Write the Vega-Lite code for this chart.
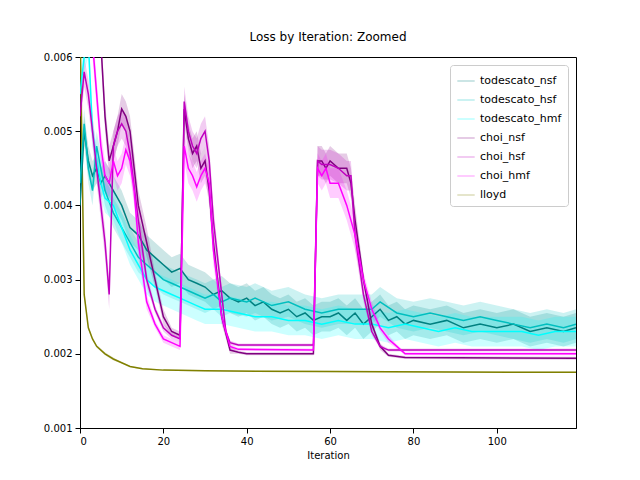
{
"$schema":"https://vega.github.io/schema/vega-lite/v6.json",
"width":496,"height":371,
"autosize":"none",
"padding":{"left":80,"top":57,"right":64,"bottom":52},
"config":{"font":"DejaVu Sans","view":{"stroke":"black"},"axis":{"grid":false,"domainColor":"black","tickColor":"black","labelColor":"black","labelFontSize":10,"titleFontSize":10,"titleFontWeight":"normal","labelPadding":3},"title":{"fontSize":12,"fontWeight":"normal","offset":8}},
"title":"Loss by Iteration: Zoomed",
"datasets":{"d":[
{"s":"lloyd","x":0,"y":0.0065,"lo":0.0064,"hi":0.0066},{"s":"lloyd","x":1,"y":0.0028,"lo":0.00275,"hi":0.00285},{"s":"lloyd","x":2,"y":0.00235,"lo":0.00232,"hi":0.00238},{"s":"lloyd","x":3,"y":0.0022,"lo":0.00218,"hi":0.00222},{"s":"lloyd","x":4,"y":0.0021,"lo":0.00208,"hi":0.00212},{"s":"lloyd","x":6,"y":0.002,"lo":0.00198,"hi":0.00202},{"s":"lloyd","x":8,"y":0.00193,"lo":0.00191,"hi":0.00195},{"s":"lloyd","x":10,"y":0.00188,"lo":0.00187,"hi":0.00189},{"s":"lloyd","x":12,"y":0.00183,"lo":0.00182,"hi":0.00184},{"s":"lloyd","x":15,"y":0.0018,"lo":0.00179,"hi":0.00181},{"s":"lloyd","x":20,"y":0.00178,"lo":0.00177,"hi":0.00179},{"s":"lloyd","x":30,"y":0.00177,"lo":0.00176,"hi":0.00178},{"s":"lloyd","x":60,"y":0.00176,"lo":0.00175,"hi":0.00177},{"s":"lloyd","x":119,"y":0.00175,"lo":0.00174,"hi":0.00176},

{"s":"todescato_nsf","x":0,"y":0.004,"lo":0.0038,"hi":0.0042},{"s":"todescato_nsf","x":1,"y":0.005,"lo":0.0048,"hi":0.0052},{"s":"todescato_nsf","x":2,"y":0.0046,"lo":0.0044,"hi":0.0048},{"s":"todescato_nsf","x":3,"y":0.0044,"lo":0.0042,"hi":0.0046},{"s":"todescato_nsf","x":4,"y":0.0045,"lo":0.0043,"hi":0.0047},{"s":"todescato_nsf","x":5,"y":0.0043,"lo":0.0041,"hi":0.0045},{"s":"todescato_nsf","x":6,"y":0.0044,"lo":0.0042,"hi":0.0046},{"s":"todescato_nsf","x":8,"y":0.0042,"lo":0.004,"hi":0.0044},{"s":"todescato_nsf","x":10,"y":0.004,"lo":0.0038,"hi":0.0042},{"s":"todescato_nsf","x":12,"y":0.0037,"lo":0.0035,"hi":0.0039},{"s":"todescato_nsf","x":14,"y":0.0036,"lo":0.0034,"hi":0.0038},{"s":"todescato_nsf","x":16,"y":0.0034,"lo":0.0032,"hi":0.0036},{"s":"todescato_nsf","x":18,"y":0.0033,"lo":0.0031,"hi":0.0035},{"s":"todescato_nsf","x":20,"y":0.0032,"lo":0.003,"hi":0.0034},{"s":"todescato_nsf","x":22,"y":0.0031,"lo":0.0029,"hi":0.0033},{"s":"todescato_nsf","x":24,"y":0.00315,"lo":0.00295,"hi":0.00335},{"s":"todescato_nsf","x":26,"y":0.003,"lo":0.0028,"hi":0.0032},{"s":"todescato_nsf","x":28,"y":0.00295,"lo":0.00275,"hi":0.00315},{"s":"todescato_nsf","x":30,"y":0.0029,"lo":0.0027,"hi":0.0031},{"s":"todescato_nsf","x":32,"y":0.0028,"lo":0.0026,"hi":0.003},{"s":"todescato_nsf","x":34,"y":0.00285,"lo":0.00265,"hi":0.00305},{"s":"todescato_nsf","x":36,"y":0.00275,"lo":0.00255,"hi":0.00295},{"s":"todescato_nsf","x":38,"y":0.0027,"lo":0.0025,"hi":0.0029},{"s":"todescato_nsf","x":40,"y":0.00275,"lo":0.00255,"hi":0.00295},{"s":"todescato_nsf","x":42,"y":0.00265,"lo":0.00245,"hi":0.00285},{"s":"todescato_nsf","x":44,"y":0.0027,"lo":0.0025,"hi":0.0029},{"s":"todescato_nsf","x":46,"y":0.0026,"lo":0.0024,"hi":0.0028},{"s":"todescato_nsf","x":48,"y":0.00255,"lo":0.00235,"hi":0.00275},{"s":"todescato_nsf","x":50,"y":0.0026,"lo":0.0024,"hi":0.0028},{"s":"todescato_nsf","x":52,"y":0.0025,"lo":0.0023,"hi":0.0027},{"s":"todescato_nsf","x":54,"y":0.00255,"lo":0.00235,"hi":0.00275},{"s":"todescato_nsf","x":56,"y":0.00245,"lo":0.00225,"hi":0.00265},{"s":"todescato_nsf","x":58,"y":0.0025,"lo":0.0023,"hi":0.0027},{"s":"todescato_nsf","x":60,"y":0.0025,"lo":0.0023,"hi":0.0027},{"s":"todescato_nsf","x":62,"y":0.00255,"lo":0.00235,"hi":0.00275},{"s":"todescato_nsf","x":64,"y":0.00245,"lo":0.00225,"hi":0.00265},{"s":"todescato_nsf","x":66,"y":0.00255,"lo":0.00235,"hi":0.00275},{"s":"todescato_nsf","x":68,"y":0.0024,"lo":0.0022,"hi":0.0026},{"s":"todescato_nsf","x":70,"y":0.0025,"lo":0.0023,"hi":0.0027},{"s":"todescato_nsf","x":72,"y":0.0026,"lo":0.0024,"hi":0.0028},{"s":"todescato_nsf","x":74,"y":0.00245,"lo":0.00225,"hi":0.00265},{"s":"todescato_nsf","x":76,"y":0.0025,"lo":0.0023,"hi":0.0027},{"s":"todescato_nsf","x":78,"y":0.0024,"lo":0.0022,"hi":0.0026},{"s":"todescato_nsf","x":80,"y":0.00245,"lo":0.00225,"hi":0.00265},{"s":"todescato_nsf","x":84,"y":0.0024,"lo":0.0022,"hi":0.0026},{"s":"todescato_nsf","x":88,"y":0.00245,"lo":0.00225,"hi":0.00265},{"s":"todescato_nsf","x":92,"y":0.00235,"lo":0.00215,"hi":0.00255},{"s":"todescato_nsf","x":96,"y":0.0024,"lo":0.0022,"hi":0.0026},{"s":"todescato_nsf","x":100,"y":0.00235,"lo":0.00215,"hi":0.00255},{"s":"todescato_nsf","x":104,"y":0.0024,"lo":0.0022,"hi":0.0026},{"s":"todescato_nsf","x":108,"y":0.0023,"lo":0.0021,"hi":0.0025},{"s":"todescato_nsf","x":112,"y":0.00235,"lo":0.00215,"hi":0.00255},{"s":"todescato_nsf","x":116,"y":0.0023,"lo":0.0021,"hi":0.0025},{"s":"todescato_nsf","x":119,"y":0.00235,"lo":0.00215,"hi":0.00255},

{"s":"todescato_hsf","x":0,"y":0.0043,"lo":0.0041,"hi":0.0045},{"s":"todescato_hsf","x":1,"y":0.0051,"lo":0.0049,"hi":0.0053},{"s":"todescato_hsf","x":2,"y":0.0045,"lo":0.0043,"hi":0.0047},{"s":"todescato_hsf","x":3,"y":0.0042,"lo":0.004,"hi":0.0044},{"s":"todescato_hsf","x":4,"y":0.0048,"lo":0.0046,"hi":0.005},{"s":"todescato_hsf","x":5,"y":0.0045,"lo":0.0043,"hi":0.0047},{"s":"todescato_hsf","x":6,"y":0.0042,"lo":0.004,"hi":0.0044},{"s":"todescato_hsf","x":8,"y":0.0039,"lo":0.0037,"hi":0.0041},{"s":"todescato_hsf","x":10,"y":0.0037,"lo":0.0035,"hi":0.0039},{"s":"todescato_hsf","x":12,"y":0.0035,"lo":0.0033,"hi":0.0037},{"s":"todescato_hsf","x":14,"y":0.0033,"lo":0.0031,"hi":0.0035},{"s":"todescato_hsf","x":16,"y":0.0032,"lo":0.003,"hi":0.0034},{"s":"todescato_hsf","x":18,"y":0.0031,"lo":0.0029,"hi":0.0033},{"s":"todescato_hsf","x":20,"y":0.003,"lo":0.0028,"hi":0.0032},{"s":"todescato_hsf","x":22,"y":0.00295,"lo":0.00275,"hi":0.00315},{"s":"todescato_hsf","x":24,"y":0.0029,"lo":0.0027,"hi":0.0031},{"s":"todescato_hsf","x":26,"y":0.00285,"lo":0.00265,"hi":0.00305},{"s":"todescato_hsf","x":28,"y":0.0028,"lo":0.0026,"hi":0.003},{"s":"todescato_hsf","x":30,"y":0.00275,"lo":0.00255,"hi":0.00295},{"s":"todescato_hsf","x":32,"y":0.0028,"lo":0.0026,"hi":0.003},{"s":"todescato_hsf","x":34,"y":0.0027,"lo":0.0025,"hi":0.0029},{"s":"todescato_hsf","x":36,"y":0.00275,"lo":0.00255,"hi":0.00295},{"s":"todescato_hsf","x":40,"y":0.0027,"lo":0.0025,"hi":0.0029},{"s":"todescato_hsf","x":42,"y":0.00275,"lo":0.00255,"hi":0.00295},{"s":"todescato_hsf","x":46,"y":0.00265,"lo":0.00245,"hi":0.00285},{"s":"todescato_hsf","x":50,"y":0.0027,"lo":0.0025,"hi":0.0029},{"s":"todescato_hsf","x":54,"y":0.0026,"lo":0.0024,"hi":0.0028},{"s":"todescato_hsf","x":58,"y":0.00255,"lo":0.00235,"hi":0.00275},{"s":"todescato_hsf","x":62,"y":0.0026,"lo":0.0024,"hi":0.0028},{"s":"todescato_hsf","x":66,"y":0.0026,"lo":0.0024,"hi":0.0028},{"s":"todescato_hsf","x":70,"y":0.0026,"lo":0.0024,"hi":0.0028},{"s":"todescato_hsf","x":72,"y":0.0027,"lo":0.0025,"hi":0.0029},{"s":"todescato_hsf","x":76,"y":0.00255,"lo":0.00235,"hi":0.00275},{"s":"todescato_hsf","x":80,"y":0.0025,"lo":0.0023,"hi":0.0027},{"s":"todescato_hsf","x":84,"y":0.00255,"lo":0.00235,"hi":0.00275},{"s":"todescato_hsf","x":88,"y":0.0025,"lo":0.0023,"hi":0.0027},{"s":"todescato_hsf","x":92,"y":0.00245,"lo":0.00225,"hi":0.00265},{"s":"todescato_hsf","x":96,"y":0.0025,"lo":0.0023,"hi":0.0027},{"s":"todescato_hsf","x":100,"y":0.00245,"lo":0.00225,"hi":0.00265},{"s":"todescato_hsf","x":104,"y":0.0024,"lo":0.0022,"hi":0.0026},{"s":"todescato_hsf","x":108,"y":0.00235,"lo":0.00215,"hi":0.00255},{"s":"todescato_hsf","x":112,"y":0.0024,"lo":0.0022,"hi":0.0026},{"s":"todescato_hsf","x":116,"y":0.00235,"lo":0.00215,"hi":0.00255},{"s":"todescato_hsf","x":119,"y":0.0024,"lo":0.0022,"hi":0.0026},

{"s":"todescato_hmf","x":0,"y":0.0055,"lo":0.0053,"hi":0.0057},{"s":"todescato_hmf","x":1,"y":0.006,"lo":0.0058,"hi":0.0062},{"s":"todescato_hmf","x":2,"y":0.0062,"lo":0.006,"hi":0.0064},{"s":"todescato_hmf","x":3,"y":0.005,"lo":0.0048,"hi":0.0052},{"s":"todescato_hmf","x":4,"y":0.0046,"lo":0.0044,"hi":0.0048},{"s":"todescato_hmf","x":5,"y":0.0043,"lo":0.0041,"hi":0.0045},{"s":"todescato_hmf","x":6,"y":0.0041,"lo":0.0039,"hi":0.0043},{"s":"todescato_hmf","x":8,"y":0.004,"lo":0.0038,"hi":0.0042},{"s":"todescato_hmf","x":10,"y":0.0037,"lo":0.0035,"hi":0.0039},{"s":"todescato_hmf","x":12,"y":0.0034,"lo":0.0032,"hi":0.0036},{"s":"todescato_hmf","x":14,"y":0.0032,"lo":0.003,"hi":0.0034},{"s":"todescato_hmf","x":16,"y":0.003,"lo":0.0028,"hi":0.0032},{"s":"todescato_hmf","x":18,"y":0.0029,"lo":0.0027,"hi":0.0031},{"s":"todescato_hmf","x":20,"y":0.00285,"lo":0.00265,"hi":0.00305},{"s":"todescato_hmf","x":22,"y":0.0028,"lo":0.0026,"hi":0.003},{"s":"todescato_hmf","x":24,"y":0.00275,"lo":0.00255,"hi":0.00295},{"s":"todescato_hmf","x":26,"y":0.0027,"lo":0.0025,"hi":0.0029},{"s":"todescato_hmf","x":28,"y":0.00265,"lo":0.00245,"hi":0.00285},{"s":"todescato_hmf","x":30,"y":0.0026,"lo":0.0024,"hi":0.0028},{"s":"todescato_hmf","x":34,"y":0.0026,"lo":0.0024,"hi":0.0028},{"s":"todescato_hmf","x":38,"y":0.00255,"lo":0.00235,"hi":0.00275},{"s":"todescato_hmf","x":42,"y":0.0025,"lo":0.0023,"hi":0.0027},{"s":"todescato_hmf","x":46,"y":0.0025,"lo":0.0023,"hi":0.0027},{"s":"todescato_hmf","x":50,"y":0.00245,"lo":0.00225,"hi":0.00265},{"s":"todescato_hmf","x":54,"y":0.00245,"lo":0.00225,"hi":0.00265},{"s":"todescato_hmf","x":58,"y":0.0024,"lo":0.0022,"hi":0.0026},{"s":"todescato_hmf","x":62,"y":0.00245,"lo":0.00225,"hi":0.00265},{"s":"todescato_hmf","x":66,"y":0.0024,"lo":0.0022,"hi":0.0026},{"s":"todescato_hmf","x":70,"y":0.0024,"lo":0.0022,"hi":0.0026},{"s":"todescato_hmf","x":74,"y":0.00235,"lo":0.00215,"hi":0.00255},{"s":"todescato_hmf","x":78,"y":0.0024,"lo":0.0022,"hi":0.0026},{"s":"todescato_hmf","x":82,"y":0.00235,"lo":0.00215,"hi":0.00255},{"s":"todescato_hmf","x":86,"y":0.0023,"lo":0.0021,"hi":0.0025},{"s":"todescato_hmf","x":90,"y":0.00235,"lo":0.00215,"hi":0.00255},{"s":"todescato_hmf","x":94,"y":0.0023,"lo":0.0021,"hi":0.0025},{"s":"todescato_hmf","x":98,"y":0.0023,"lo":0.0021,"hi":0.0025},{"s":"todescato_hmf","x":102,"y":0.0023,"lo":0.0021,"hi":0.0025},{"s":"todescato_hmf","x":106,"y":0.0023,"lo":0.0021,"hi":0.0025},{"s":"todescato_hmf","x":110,"y":0.00225,"lo":0.00205,"hi":0.00245},{"s":"todescato_hmf","x":114,"y":0.0023,"lo":0.0021,"hi":0.0025},{"s":"todescato_hmf","x":119,"y":0.0023,"lo":0.0021,"hi":0.0025},

{"s":"choi_nsf","x":0,"y":0.0065,"lo":0.0063,"hi":0.0067},{"s":"choi_nsf","x":1,"y":0.007,"lo":0.0068,"hi":0.0072},{"s":"choi_nsf","x":3,"y":0.0065,"lo":0.0063,"hi":0.0067},{"s":"choi_nsf","x":5,"y":0.0062,"lo":0.006,"hi":0.0064},{"s":"choi_nsf","x":6,"y":0.0052,"lo":0.005,"hi":0.0054},{"s":"choi_nsf","x":7,"y":0.0046,"lo":0.0044,"hi":0.0048},{"s":"choi_nsf","x":8,"y":0.0048,"lo":0.0046,"hi":0.005},{"s":"choi_nsf","x":9,"y":0.005,"lo":0.0048,"hi":0.0052},{"s":"choi_nsf","x":10,"y":0.0053,"lo":0.0051,"hi":0.0055},{"s":"choi_nsf","x":11,"y":0.0052,"lo":0.005,"hi":0.0054},{"s":"choi_nsf","x":12,"y":0.005,"lo":0.0048,"hi":0.0052},{"s":"choi_nsf","x":13,"y":0.0045,"lo":0.0043,"hi":0.0047},{"s":"choi_nsf","x":14,"y":0.004,"lo":0.0038,"hi":0.0042},{"s":"choi_nsf","x":16,"y":0.0035,"lo":0.0033,"hi":0.0037},{"s":"choi_nsf","x":18,"y":0.003,"lo":0.0029,"hi":0.0031},{"s":"choi_nsf","x":20,"y":0.0025,"lo":0.0024,"hi":0.0026},{"s":"choi_nsf","x":22,"y":0.0023,"lo":0.00225,"hi":0.00235},{"s":"choi_nsf","x":24,"y":0.00225,"lo":0.0022,"hi":0.0023},{"s":"choi_nsf","x":25,"y":0.0053,"lo":0.0051,"hi":0.0055},{"s":"choi_nsf","x":26,"y":0.0049,"lo":0.0047,"hi":0.0051},{"s":"choi_nsf","x":27,"y":0.0047,"lo":0.0045,"hi":0.0049},{"s":"choi_nsf","x":28,"y":0.0048,"lo":0.0046,"hi":0.005},{"s":"choi_nsf","x":29,"y":0.0045,"lo":0.0043,"hi":0.0047},{"s":"choi_nsf","x":30,"y":0.0046,"lo":0.0044,"hi":0.0048},{"s":"choi_nsf","x":31,"y":0.0042,"lo":0.004,"hi":0.0044},{"s":"choi_nsf","x":32,"y":0.0035,"lo":0.0033,"hi":0.0037},{"s":"choi_nsf","x":34,"y":0.0025,"lo":0.0024,"hi":0.0026},{"s":"choi_nsf","x":36,"y":0.00205,"lo":0.002,"hi":0.0021},{"s":"choi_nsf","x":38,"y":0.00202,"lo":0.002,"hi":0.00204},{"s":"choi_nsf","x":40,"y":0.002,"lo":0.00198,"hi":0.00202},{"s":"choi_nsf","x":56,"y":0.002,"lo":0.00198,"hi":0.00202},{"s":"choi_nsf","x":57,"y":0.0046,"lo":0.0044,"hi":0.0048},{"s":"choi_nsf","x":58,"y":0.0046,"lo":0.0044,"hi":0.0048},{"s":"choi_nsf","x":59,"y":0.0045,"lo":0.0043,"hi":0.0047},{"s":"choi_nsf","x":60,"y":0.0046,"lo":0.0044,"hi":0.0048},{"s":"choi_nsf","x":62,"y":0.0045,"lo":0.0043,"hi":0.0047},{"s":"choi_nsf","x":64,"y":0.0045,"lo":0.0043,"hi":0.0047},{"s":"choi_nsf","x":65,"y":0.0043,"lo":0.0041,"hi":0.0045},{"s":"choi_nsf","x":66,"y":0.0038,"lo":0.0036,"hi":0.004},{"s":"choi_nsf","x":68,"y":0.003,"lo":0.0029,"hi":0.0031},{"s":"choi_nsf","x":70,"y":0.0024,"lo":0.00235,"hi":0.00245},{"s":"choi_nsf","x":72,"y":0.0021,"lo":0.00205,"hi":0.00215},{"s":"choi_nsf","x":74,"y":0.00198,"lo":0.00196,"hi":0.002},{"s":"choi_nsf","x":78,"y":0.00195,"lo":0.00193,"hi":0.00197},{"s":"choi_nsf","x":119,"y":0.00194,"lo":0.00192,"hi":0.00196},

{"s":"choi_hsf","x":0,"y":0.0052,"lo":0.005,"hi":0.0054},{"s":"choi_hsf","x":1,"y":0.0058,"lo":0.0056,"hi":0.006},{"s":"choi_hsf","x":2,"y":0.0055,"lo":0.0053,"hi":0.0057},{"s":"choi_hsf","x":3,"y":0.005,"lo":0.0048,"hi":0.0052},{"s":"choi_hsf","x":4,"y":0.0045,"lo":0.0043,"hi":0.0047},{"s":"choi_hsf","x":5,"y":0.004,"lo":0.0038,"hi":0.0042},{"s":"choi_hsf","x":6,"y":0.0035,"lo":0.0033,"hi":0.0037},{"s":"choi_hsf","x":7,"y":0.0028,"lo":0.0026,"hi":0.003},{"s":"choi_hsf","x":8,"y":0.0048,"lo":0.0046,"hi":0.005},{"s":"choi_hsf","x":9,"y":0.005,"lo":0.0048,"hi":0.0052},{"s":"choi_hsf","x":10,"y":0.0051,"lo":0.0049,"hi":0.0053},{"s":"choi_hsf","x":11,"y":0.005,"lo":0.0048,"hi":0.0052},{"s":"choi_hsf","x":12,"y":0.0047,"lo":0.0045,"hi":0.0049},{"s":"choi_hsf","x":14,"y":0.0038,"lo":0.0036,"hi":0.004},{"s":"choi_hsf","x":16,"y":0.003,"lo":0.0029,"hi":0.0031},{"s":"choi_hsf","x":18,"y":0.0026,"lo":0.00255,"hi":0.00265},{"s":"choi_hsf","x":20,"y":0.00235,"lo":0.0023,"hi":0.0024},{"s":"choi_hsf","x":22,"y":0.00225,"lo":0.0022,"hi":0.0023},{"s":"choi_hsf","x":24,"y":0.0022,"lo":0.00215,"hi":0.00225},{"s":"choi_hsf","x":25,"y":0.0054,"lo":0.0052,"hi":0.0056},{"s":"choi_hsf","x":26,"y":0.005,"lo":0.0048,"hi":0.0052},{"s":"choi_hsf","x":27,"y":0.0048,"lo":0.0046,"hi":0.005},{"s":"choi_hsf","x":28,"y":0.0047,"lo":0.0045,"hi":0.0049},{"s":"choi_hsf","x":29,"y":0.0049,"lo":0.0047,"hi":0.0051},{"s":"choi_hsf","x":30,"y":0.005,"lo":0.0048,"hi":0.0052},{"s":"choi_hsf","x":31,"y":0.0046,"lo":0.0044,"hi":0.0048},{"s":"choi_hsf","x":32,"y":0.0038,"lo":0.0036,"hi":0.004},{"s":"choi_hsf","x":34,"y":0.0028,"lo":0.0027,"hi":0.0029},{"s":"choi_hsf","x":35,"y":0.0023,"lo":0.00225,"hi":0.00235},{"s":"choi_hsf","x":36,"y":0.00215,"lo":0.00212,"hi":0.00218},{"s":"choi_hsf","x":38,"y":0.00212,"lo":0.0021,"hi":0.00214},{"s":"choi_hsf","x":56,"y":0.00212,"lo":0.0021,"hi":0.00214},{"s":"choi_hsf","x":57,"y":0.0046,"lo":0.0044,"hi":0.0048},{"s":"choi_hsf","x":58,"y":0.00455,"lo":0.00435,"hi":0.00475},{"s":"choi_hsf","x":60,"y":0.00455,"lo":0.00435,"hi":0.00475},{"s":"choi_hsf","x":62,"y":0.0045,"lo":0.0043,"hi":0.0047},{"s":"choi_hsf","x":64,"y":0.0044,"lo":0.0042,"hi":0.0046},{"s":"choi_hsf","x":65,"y":0.0044,"lo":0.0042,"hi":0.0046},{"s":"choi_hsf","x":66,"y":0.0036,"lo":0.0034,"hi":0.0038},{"s":"choi_hsf","x":68,"y":0.0028,"lo":0.0027,"hi":0.0029},{"s":"choi_hsf","x":70,"y":0.0023,"lo":0.00225,"hi":0.00235},{"s":"choi_hsf","x":72,"y":0.0021,"lo":0.00207,"hi":0.00213},{"s":"choi_hsf","x":74,"y":0.00205,"lo":0.00203,"hi":0.00207},{"s":"choi_hsf","x":119,"y":0.00205,"lo":0.00203,"hi":0.00207},

{"s":"choi_hmf","x":0,"y":0.0062,"lo":0.006,"hi":0.0064},{"s":"choi_hmf","x":1,"y":0.0065,"lo":0.0063,"hi":0.0067},{"s":"choi_hmf","x":2,"y":0.0065,"lo":0.0063,"hi":0.0067},{"s":"choi_hmf","x":3,"y":0.0062,"lo":0.006,"hi":0.0064},{"s":"choi_hmf","x":4,"y":0.0055,"lo":0.0053,"hi":0.0057},{"s":"choi_hmf","x":5,"y":0.0048,"lo":0.0046,"hi":0.005},{"s":"choi_hmf","x":6,"y":0.0044,"lo":0.0042,"hi":0.0046},{"s":"choi_hmf","x":7,"y":0.0043,"lo":0.0041,"hi":0.0045},{"s":"choi_hmf","x":8,"y":0.0046,"lo":0.0044,"hi":0.0048},{"s":"choi_hmf","x":9,"y":0.0044,"lo":0.0042,"hi":0.0046},{"s":"choi_hmf","x":10,"y":0.0045,"lo":0.0043,"hi":0.0047},{"s":"choi_hmf","x":11,"y":0.00475,"lo":0.00455,"hi":0.00495},{"s":"choi_hmf","x":12,"y":0.0046,"lo":0.0044,"hi":0.0048},{"s":"choi_hmf","x":13,"y":0.0042,"lo":0.004,"hi":0.0044},{"s":"choi_hmf","x":14,"y":0.0035,"lo":0.0033,"hi":0.0037},{"s":"choi_hmf","x":16,"y":0.0027,"lo":0.0026,"hi":0.0028},{"s":"choi_hmf","x":18,"y":0.0024,"lo":0.00235,"hi":0.00245},{"s":"choi_hmf","x":20,"y":0.0022,"lo":0.00215,"hi":0.00225},{"s":"choi_hmf","x":22,"y":0.00215,"lo":0.0021,"hi":0.0022},{"s":"choi_hmf","x":24,"y":0.0021,"lo":0.00205,"hi":0.00215},{"s":"choi_hmf","x":25,"y":0.0048,"lo":0.0046,"hi":0.005},{"s":"choi_hmf","x":26,"y":0.0045,"lo":0.0043,"hi":0.0047},{"s":"choi_hmf","x":27,"y":0.0044,"lo":0.0042,"hi":0.0046},{"s":"choi_hmf","x":28,"y":0.00425,"lo":0.00405,"hi":0.00445},{"s":"choi_hmf","x":29,"y":0.0044,"lo":0.0042,"hi":0.0046},{"s":"choi_hmf","x":30,"y":0.0045,"lo":0.0043,"hi":0.0047},{"s":"choi_hmf","x":31,"y":0.0043,"lo":0.0041,"hi":0.0045},{"s":"choi_hmf","x":32,"y":0.0034,"lo":0.0032,"hi":0.0036},{"s":"choi_hmf","x":34,"y":0.0025,"lo":0.0024,"hi":0.0026},{"s":"choi_hmf","x":36,"y":0.0021,"lo":0.00207,"hi":0.00213},{"s":"choi_hmf","x":38,"y":0.00206,"lo":0.00204,"hi":0.00208},{"s":"choi_hmf","x":56,"y":0.00205,"lo":0.00203,"hi":0.00207},{"s":"choi_hmf","x":57,"y":0.0045,"lo":0.0043,"hi":0.0047},{"s":"choi_hmf","x":58,"y":0.0044,"lo":0.0042,"hi":0.0046},{"s":"choi_hmf","x":59,"y":0.0045,"lo":0.0043,"hi":0.0047},{"s":"choi_hmf","x":60,"y":0.0043,"lo":0.0041,"hi":0.0045},{"s":"choi_hmf","x":62,"y":0.0043,"lo":0.0041,"hi":0.0045},{"s":"choi_hmf","x":64,"y":0.004,"lo":0.0038,"hi":0.0042},{"s":"choi_hmf","x":66,"y":0.0036,"lo":0.0034,"hi":0.0038},{"s":"choi_hmf","x":68,"y":0.003,"lo":0.0029,"hi":0.0031},{"s":"choi_hmf","x":70,"y":0.0026,"lo":0.0025,"hi":0.0027},{"s":"choi_hmf","x":72,"y":0.00235,"lo":0.0023,"hi":0.0024},{"s":"choi_hmf","x":74,"y":0.0022,"lo":0.00215,"hi":0.00225},{"s":"choi_hmf","x":76,"y":0.0021,"lo":0.00207,"hi":0.00213},{"s":"choi_hmf","x":78,"y":0.002,"lo":0.00198,"hi":0.00202},{"s":"choi_hmf","x":119,"y":0.002,"lo":0.00198,"hi":0.00202}
]},
"data":{"name":"d"},
"encoding":{
"x":{"field":"x","type":"quantitative","title":"Iteration","scale":{"domain":[0,119],"nice":false},"axis":{"values":[0,20,40,60,80,100]}},
"color":{"field":"s","type":"nominal","scale":{"domain":["todescato_nsf","todescato_hsf","todescato_hmf","choi_nsf","choi_hsf","choi_hmf","lloyd"],"range":["#008080","#00bfbf","#00ffff","#800080","#bf00bf","#ff00ff","#808000"]},"legend":{"title":null,"orient":"top-right","symbolType":"stroke","symbolStrokeWidth":2,"symbolSize":300,"labelFontSize":11,"strokeColor":"#cccccc","fillColor":"white","padding":6,"cornerRadius":3,"rowPadding":4,"offset":8}}
},
"layer":[
{"mark":{"type":"area","opacity":0.2,"clip":true},"encoding":{"y":{"field":"lo","type":"quantitative","title":null,"scale":{"domain":[0.001,0.006],"nice":false},"axis":{"values":[0.001,0.002,0.003,0.004,0.005,0.006],"format":".3f"}},"y2":{"field":"hi"}}},
{"mark":{"type":"line","strokeWidth":1.5,"clip":true},"encoding":{"y":{"field":"y","type":"quantitative"}}}
]
}
